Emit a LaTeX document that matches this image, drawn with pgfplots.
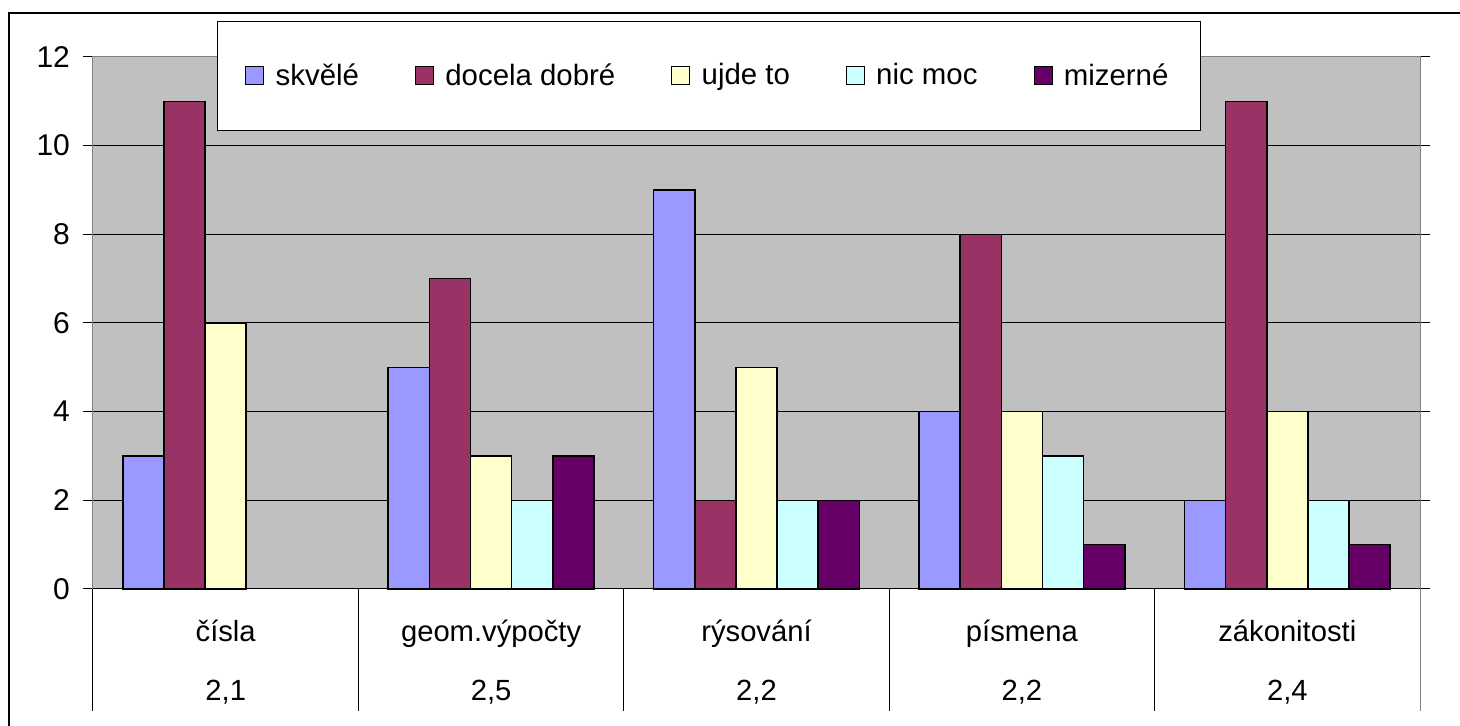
\documentclass[border=0pt]{standalone}
\usepackage{pgfplots}
\pgfplotsset{compat=1.18}
\usepackage{fontspec}
\setmainfont{Liberation Sans}
\definecolor{c1}{HTML}{9999FF}
\definecolor{c2}{HTML}{993366}
\definecolor{c3}{HTML}{FFFFCC}
\definecolor{c4}{HTML}{CCFFFF}
\definecolor{c5}{HTML}{660066}
\definecolor{plotgray}{HTML}{C0C0C0}
\definecolor{framegray}{HTML}{808080}
\pgfplotsset{myleg/.style={legend image code/.code={\draw[##1, line width=0.5pt] (0pt,-4.5pt) rectangle (9pt,4.5pt); \path (12.5pt,0pt);}}}
\begin{document}
\begin{tikzpicture}
\useasboundingbox (0,0) rectangle (730pt,363pt);
\fill[white] (0,0) rectangle (730pt,363pt);
\begin{axis}[
  at={(46.5pt,68.5pt)}, anchor=south west,
  scale only axis, width=663.5pt, height=266pt,
  xmin=-0.5, xmax=4.5, ymin=0, ymax=12,
  ytick={0,2,...,12},
  xtick={0,...,4},
  xticklabels={čísla,geom.výpočty,rýsování,písmena,zákonitosti},
  extra x ticks={0,...,4},
  extra x tick labels={{2,1},{2,5},{2,2},{2,2},{2,4}},
  extra x tick style={xticklabel style={yshift=-29.5pt}},
  xtick style={draw=none},
  ytick style={black, line width=0.5pt},
  major tick length=5pt, tick align=outside,
  ymajorgrids, grid style={black, line width=0.5pt},
  axis line style={framegray, line width=0.5pt},
  axis background/.style={fill=plotgray},
  /pgf/number format/assume math mode=true,
  tick label style={font=\fontsize{14.6pt}{17pt}\selectfont},
  yticklabel style={xshift=-3pt, font=\fontsize{15pt}{17pt}\selectfont},
  xticklabel style={anchor=north, inner sep=0pt, text height=10pt, text depth=3pt, yshift=-11pt},
  ybar, bar width=0.155,
  clip=false,
  legend columns=5,
  legend cell align=left,
  legend style={at={(0.0934,1.0677)}, anchor=north west, draw=black, line width=0.5pt,
    inner xsep=14pt, inner ysep=19pt, font=\fontsize{14.7pt}{17pt}\selectfont,
    /tikz/every even column/.append style={column sep=26pt}},
]
\addplot[fill=c1, draw=black, line width=0.8pt, bar shift=-0.31, myleg]
  coordinates {(0,3) (1,5) (2,9) (3,4) (4,2)};
\addplot[fill=c2, draw=black, line width=0.8pt, bar shift=-0.155, myleg]
  coordinates {(0,11) (1,7) (2,2) (3,8) (4,11)};
\addplot[fill=c3, draw=black, line width=0.8pt, bar shift=0, myleg]
  coordinates {(0,6) (1,3) (2,5) (3,4) (4,4)};
\addplot[fill=c4, draw=black, line width=0.8pt, bar shift=0.155, myleg]
  coordinates {(1,2) (2,2) (3,3) (4,2)};
\addplot[fill=c5, draw=black, line width=0.8pt, bar shift=0.31, myleg]
  coordinates {(1,3) (2,2) (3,1) (4,1)};
\legend{skvělé,docela dobré,ujde to,nic moc,mizerné}
\draw[black, line width=0.5pt] (axis cs:-0.5,0) -- (axis cs:4.5,0);
\draw[black, line width=0.5pt] (axis cs:-0.5,0) -- ++(0pt,-61pt);
\draw[black, line width=0.5pt] (axis cs:0.5,0) -- ++(0pt,-61pt);
\draw[black, line width=0.5pt] (axis cs:1.5,0) -- ++(0pt,-61pt);
\draw[black, line width=0.5pt] (axis cs:2.5,0) -- ++(0pt,-61pt);
\draw[black, line width=0.5pt] (axis cs:3.5,0) -- ++(0pt,-61pt);
\draw[framegray, line width=0.5pt] (axis cs:4.5,0) -- ++(0pt,-61pt);
\end{axis}
\draw[black, line width=1pt] (4.5pt,-2pt) -- (4.5pt,356.5pt) -- (732pt,356.5pt);
\end{tikzpicture}
\end{document}
